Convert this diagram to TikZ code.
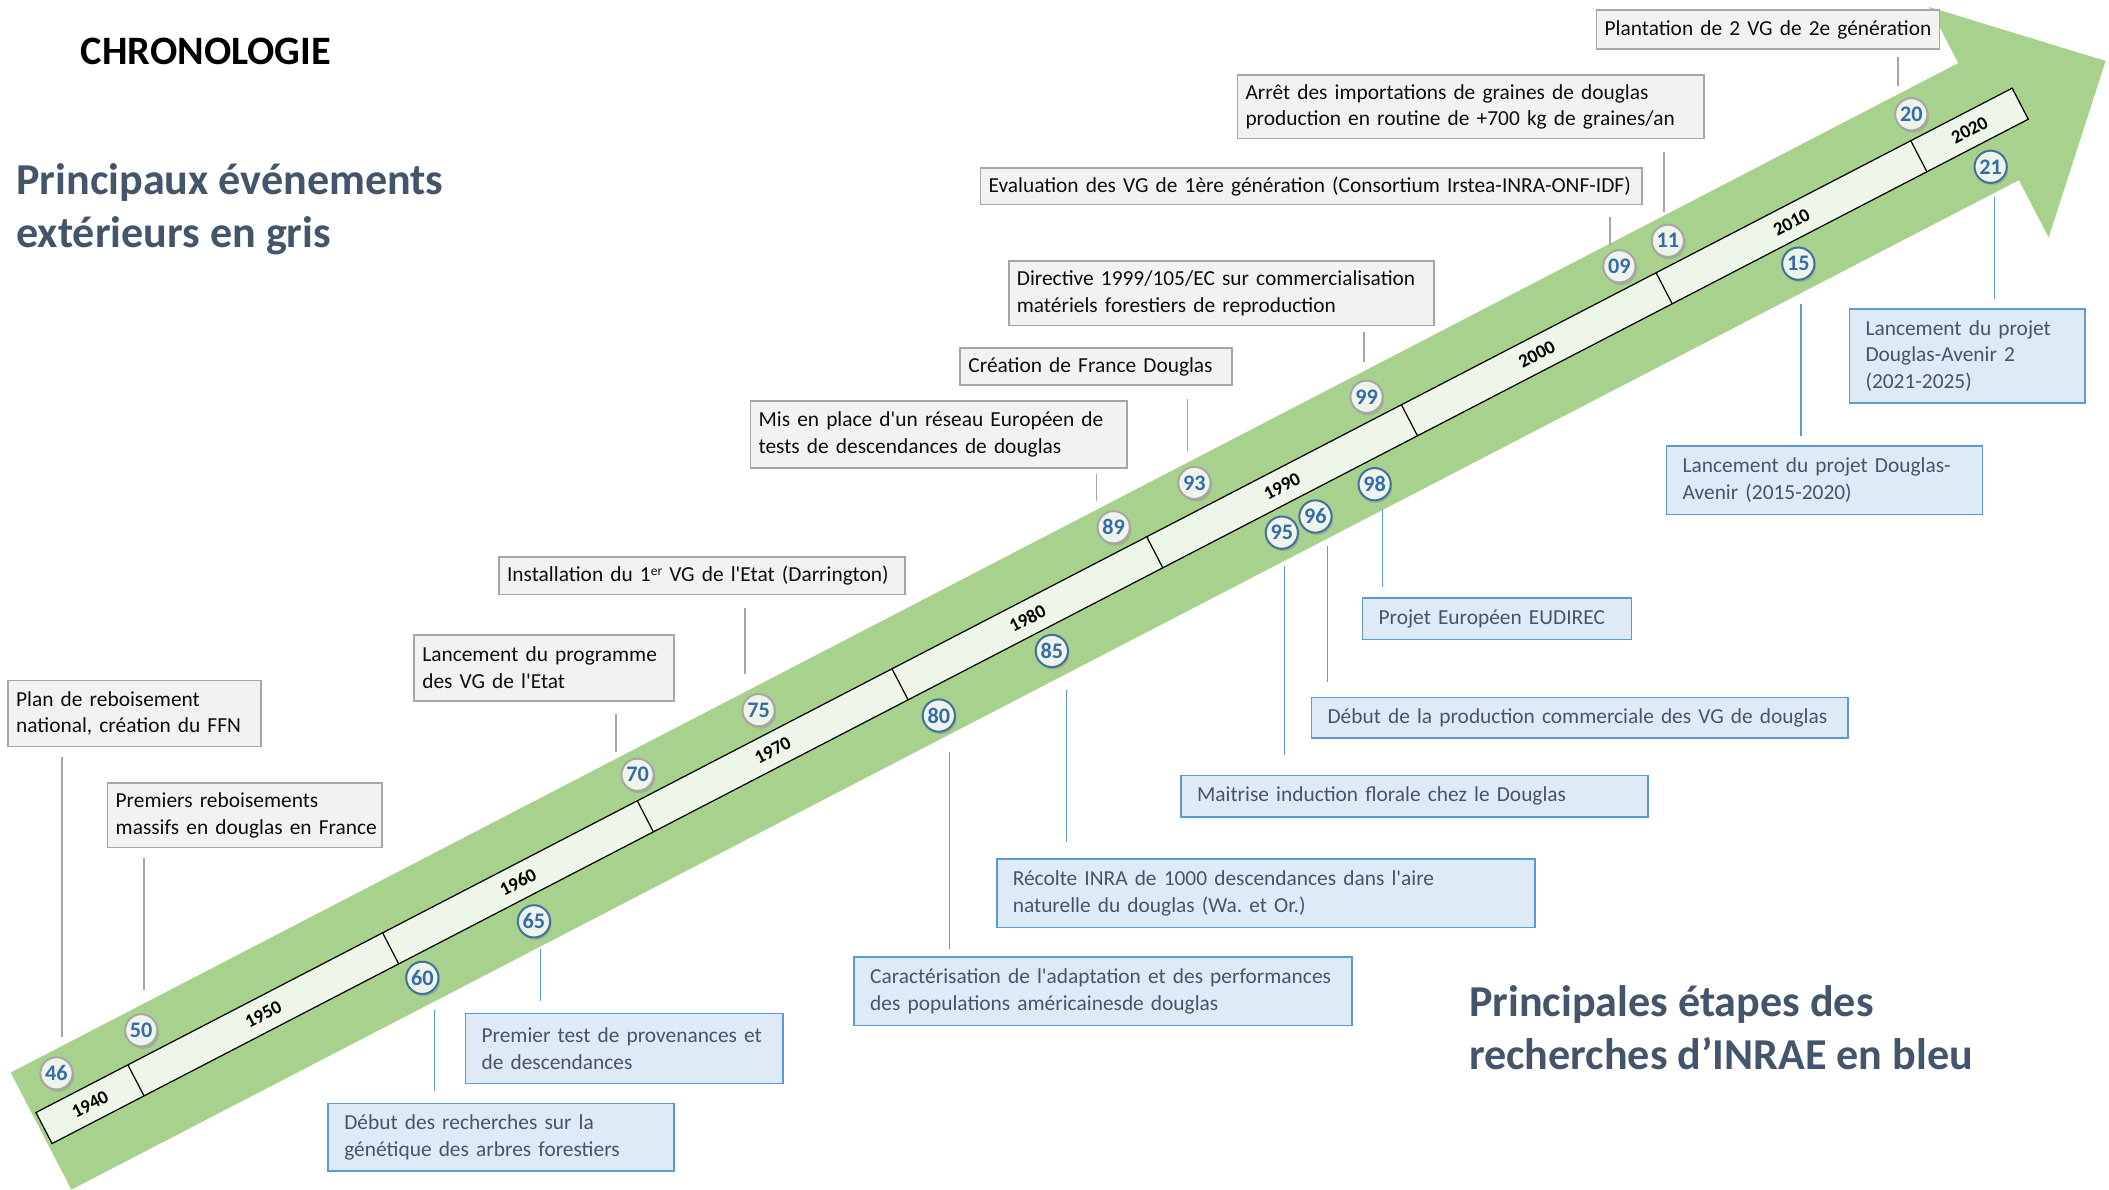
\documentclass[tikz,border=0pt]{standalone}
\usepackage{fontspec}
\setmainfont{Carlito}[Ligatures=TeXOff]
\usetikzlibrary{shadows,calc}
\definecolor{bandgreen}{HTML}{A9D18E}
\definecolor{barfill}{HTML}{EEF5E9}
\definecolor{gfill}{HTML}{F2F2F2}
\definecolor{gdraw}{HTML}{A6A6A6}
\definecolor{bfill}{HTML}{DEEBF7}
\definecolor{bdraw}{HTML}{5B9BD5}
\definecolor{slate}{HTML}{44546A}
\definecolor{numblue}{HTML}{356CA8}
\definecolor{circfill}{HTML}{EEF4EA}
\definecolor{cblue}{HTML}{41719C}
\frenchspacing
\newcommand\supr[1]{\raisebox{0.3em}{\fontsize{10}{10}\selectfont #1}}
\newcommand\topconn[5]{%
  \path (#2.north) ++(#3,0) coordinate (#2t);
  \draw[gline, shorten <=#4pt, shorten >=#5pt] (#1.south -| #2t) -- (#2t);}
\newcommand\botconn[5]{%
  \path (#1.south) ++(#3,0) coordinate (#1b);
  \draw[bline, shorten <=#4pt, shorten >=#5pt] (#1b) -- (#1b |- #2.north);}
\begin{document}
\begin{tikzpicture}[x=1pt,y=-1pt,
  boxfont/.style={font=\fontsize{15.9}{19.8}\selectfont},
  gbox/.style={boxfont, draw=gdraw, fill=gfill, line width=1.3pt, inner xsep=6pt, inner ysep=0pt, align=left, text=black!95},
  bbox/.style={boxfont, draw=bdraw, fill=bfill, line width=1.3pt, inner xsep=12pt, inner ysep=0pt, align=left, text=slate},
  gline/.style={draw=gdraw, line width=1.1pt},
  bline/.style={draw=bdraw, line width=1.1pt},
  ccirc/.style={circle, minimum size=24pt, inner sep=0pt, fill=circfill, line width=1.5pt,
    font=\bfseries\fontsize{16.5}{16.5}\selectfont, text=numblue,
    drop shadow={opacity=0.35, shadow xshift=1.2pt, shadow yshift=-1.8pt}},
  gcirc/.style={ccirc, draw=gdraw},
  bcirc/.style={ccirc, draw=cblue},
  yearlab/.style={font=\bfseries\fontsize{14}{14}\selectfont, transform shape, inner sep=0pt},
  heading/.style={font=\bfseries\fontsize{32.8}{39.5}\selectfont, text=slate, align=left, inner sep=0pt}
]
\useasboundingbox[fill=white] (0,0) rectangle (1568,884);

% ---- band, timeline bar ----
\begin{scope}[shift={(102,805)}, rotate=27.4]
  \fill[bandgreen] (-80,-50) -- (1551,-50) -- (1551,-97) -- (1649,-1) -- (1551,96) -- (1551,48) -- (-80,48) -- cycle;
  \draw[fill=barfill, line width=0.9pt] (-77,-15) rectangle (1578,11);
  \foreach \k in {0,...,7} \draw[line width=0.9pt] ({213.3*\k},-15) -- ({213.3*\k},11);
  \node[yearlab] (y1940) at (-38.5,-2) {1940};
  \node[yearlab] (y1950) at (106.65,-2) {1950};
  \node[yearlab] (y1960) at (319.95,-2) {1960};
  \node[yearlab] (y1970) at (533.25,-2) {1970};
  \node[yearlab] (y1980) at (746.55,-2) {1980};
  \node[yearlab] (y1990) at (959.85,-2) {1990};
  \node[yearlab] (y2000) at (1173.15,-2) {2000};
  \node[yearlab] (y2010) at (1386.45,-2) {2010};
  \node[yearlab] (y2020) at (1535.5,-2) {2020};
\end{scope}

% ---- titles ----
\node[font=\bfseries\fontsize{30}{30}\selectfont, anchor=base west, inner sep=0pt] (title) at (60,48) {CHRONOLOGIE};
\node[heading, anchor=base west] (hgris) at (12,184) {Principaux événements\\extérieurs en gris};
\node[heading, anchor=base west] (hbleu) at (1092,795) {Principales étapes des\\recherches d’INRAE en bleu};

% ---- grey boxes ----
\node[gbox, text width=176pt, minimum height=49pt] (b1) at (100,530.5) {Plan de reboisement\\national, création du FFN};
\node[gbox, inner xsep=3pt, text width=198pt, minimum height=48pt] (b2) at (182,606) {\hspace*{3pt}Premiers reboisements\\\hspace*{3pt}massifs en douglas en France};
\node[gbox, text width=181pt, minimum height=49pt] (b3) at (404.5,496.5) {Lancement du programme\\des VG de l'Etat};
\node[gbox, text width=290pt, minimum height=28pt] (b4) at (522,428) {Installation du 1\supr{er} VG de l'Etat (Darrington)};
\node[gbox, text width=268pt, minimum height=50pt] (b5) at (698,323) {Mis en place d'un réseau Européen de\\tests de descendances de douglas};
\node[gbox, text width=190pt, minimum height=28pt] (b6) at (815,272.5) {Création de France Douglas};
\node[gbox, text width=304pt, minimum height=48pt] (b7) at (908,218) {Directive 1999/105/EC sur commercialisation\\matériels forestiers de reproduction};
\node[gbox, text width=480pt, minimum height=27pt] (b8) at (975,138.5) {Evaluation des VG de 1ère génération (Consortium Irstea-INRA-ONF-IDF)};
\node[gbox, text width=335pt, minimum height=47pt] (b9) at (1093.5,79.5) {Arrêt des importations de graines de douglas\\production en routine de +700 kg de graines/an};
\node[gbox, text width=243pt, minimum height=29pt] (b10) at (1314.5,22) {Plantation de 2 VG de 2e génération};

% ---- blue boxes ----
\node[bbox, text width=233pt, minimum height=50pt] (b11) at (372.5,845.5) {Début des recherches sur la\\génétique des arbres forestiers};
\node[bbox, text width=212pt, minimum height=52pt] (b12) at (464,779.5) {Premier test de provenances et\\de descendances};
\node[bbox, text width=346pt, minimum height=51pt] (b13) at (820,737) {Caractérisation de l'adaptation et des performances\\des populations américainesde douglas};
\node[bbox, text width=376pt, minimum height=51pt] (b14) at (941,664) {Récolte INRA de 1000 descendances dans l'aire\\naturelle du douglas (Wa. et Or.)};
\node[bbox, text width=323pt, minimum height=31pt] (b15) at (1051.5,592) {Maitrise induction florale chez le Douglas};
\node[bbox, text width=375pt, minimum height=30pt] (b16) at (1174.5,533.5) {Début de la production commerciale des VG de douglas};
\node[bbox, text width=176pt, minimum height=31pt] (b17) at (1113,460) {Projet Européen EUDIREC};
\node[bbox, text width=211pt, minimum height=51pt] (b18) at (1356.5,357) {Lancement du projet Douglas-\\Avenir (2015-2020)};
\node[bbox, text width=151pt, minimum height=70pt] (b19) at (1462.5,264.5) {Lancement du projet\\Douglas-Avenir 2\\(2021-2025)};

% ---- circles ----
\node[gcirc] (c46) at (42,798) {46};
\node[gcirc] (c50) at (105,766) {50};
\node[gcirc] (c70) at (474,576) {70};
\node[gcirc] (c75) at (564,528) {75};
\node[gcirc] (c89) at (828,392) {89};
\node[gcirc] (c93) at (888,359) {93};
\node[gcirc] (c99) at (1016,295) {99};
\node[gcirc] (c09) at (1204,198) {09};
\node[gcirc] (c11) at (1240,179) {11};
\node[gcirc] (c20) at (1421,85) {20};
\node[bcirc] (c60) at (314,727) {60};
\node[bcirc] (c65) at (397,685) {65};
\node[bcirc] (c80) at (698,532) {80};
\node[bcirc] (c85) at (782,484) {85};
\node[bcirc] (c95) at (953,396) {95};
\node[bcirc] (c96) at (978,384) {96};
\node[bcirc] (c98) at (1022,360) {98};
\node[bcirc] (c15) at (1337,196) {15};
\node[bcirc] (c21) at (1480,124) {21};

% ---- connectors ----
\topconn{b1}{c46}{4}{7.5}{14}
\topconn{b2}{c50}{2}{7.5}{17}
\topconn{b3}{c70}{-16}{9.5}{4}
\topconn{b4}{c75}{-10}{9.5}{14}
\topconn{b5}{c89}{-12.6}{3.5}{7}
\topconn{b6}{c93}{-5}{9.5}{11}
\topconn{b7}{c99}{-2}{4.5}{13}
\topconn{b8}{c09}{-7}{8.5}{3}
\topconn{b9}{c11}{-3}{9.5}{9}
\topconn{b10}{c20}{-10}{5.5}{8}
\botconn{c60}{b11}{9}{11}{8.5}
\botconn{c65}{b12}{5}{8}{8.5}
\botconn{c80}{b13}{8}{14}{5.5}
\botconn{c85}{b14}{11}{16}{11.5}
\botconn{c95}{b15}{2}{12}{14.5}
\botconn{c96}{b16}{9}{9}{10.5}
\botconn{c98}{b17}{6}{6}{7.5}
\botconn{c15}{b18}{2}{17}{6.5}
\botconn{c21}{b19}{3}{10}{6.5}
\end{tikzpicture}
\end{document}
